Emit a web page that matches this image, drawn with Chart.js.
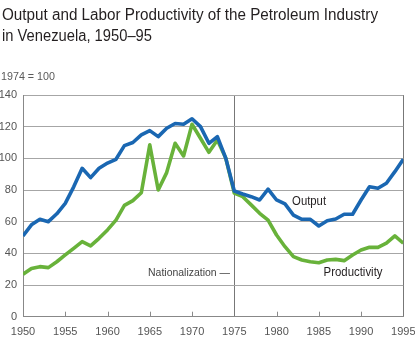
<!DOCTYPE html>
<html><head><meta charset="utf-8">
<script src="https://cdn.jsdelivr.net/npm/chart.js@4.4.1/dist/chart.umd.min.js"></script>
<style>html,body{margin:0;padding:0;background:#fff}#wrap{width:415px;height:353px;position:relative}</style>
</head><body><div id="wrap"><canvas id="c" width="415" height="353"></canvas></div>
<script>
const years = [1950,1951,1952,1953,1954,1955,1956,1957,1958,1959,1960,1961,1962,1963,1964,1965,1966,1967,1968,1969,1970,1971,1972,1973,1974,1975,1976,1977,1978,1979,1980,1981,1982,1983,1984,1985,1986,1987,1988,1989,1990,1991,1992,1993,1994,1995];
const outputIdx = [51,58,61.5,60,65,71.6,82,93.7,87.8,93.7,97,99.4,108,110,114.8,117.5,113.7,119,122,121.5,125,120,109.5,113.7,100,79.4,77.5,75.8,73.7,80.5,73.7,71.2,64.2,61.5,61.5,57.3,60.6,61.7,64.7,64.7,73.7,82.1,81.1,84.3,91.6,99.4];
const productivityIdx = [26.8,30.5,31.6,31,34.7,39,43.2,47.4,44.7,49.5,54.8,61,70.3,73.3,78.3,108.5,80,91,109.5,101.5,121.5,112.7,103.8,111.6,100,78,75.8,70.6,65.3,61,51.6,44.2,37.9,35.8,34.7,34.1,35.8,36.2,35.4,39,42.1,43.8,43.8,46.4,51,46.4];
const xTicks = [1950,1955,1960,1965,1970,1975,1980,1985,1990,1995];
const yTicks = [0,20,40,60,80,100,120,140];
const titleLines = ["Output and Labor Productivity of the Petroleum Industry","in Venezuela, 1950\u201395"];
const unitNote = "1974 = 100";
const nationalizationYear = 1975;

const SANS = "'Liberation Sans Narrow','Arial Narrow','Liberation Sans',Arial,sans-serif";

function fitText(ctx, text, x, y, font, color, width, align) {
  ctx.save();
  ctx.font = font;
  ctx.fillStyle = color;
  ctx.textBaseline = 'alphabetic';
  ctx.textAlign = 'left';
  const w = ctx.measureText(text).width;
  const s = width / w;
  let left = x;
  if (align === 'center') left = x - width / 2;
  else if (align === 'right') left = x - width;
  ctx.translate(left, y);
  ctx.scale(s, 1);
  ctx.fillText(text, 0, 0);
  ctx.restore();
}

const overlay = {
  id: 'overlay',
  beforeDatasetsDraw(chart) {
    const ctx = chart.ctx, xs = chart.scales.x, ys = chart.scales.y;
    const y0 = ys.getPixelForValue(0);
    ctx.save();
    ctx.strokeStyle = '#8a8a8a';
    ctx.lineWidth = 1;
    xTicks.forEach(v => {
      if (v === 1950 || v === nationalizationYear || v === 1995) return;
      const px = Math.round(xs.getPixelForValue(v)) + 0.5;
      ctx.beginPath(); ctx.moveTo(px, y0); ctx.lineTo(px, y0 - 5); ctx.stroke();
    });
    ctx.restore();
  },
  afterDraw(chart) {
    const ctx = chart.ctx, xs = chart.scales.x, ys = chart.scales.y;
    fitText(ctx, titleLines[0], 2, 20, "16px " + SANS, '#231f20', 376, 'left');
    fitText(ctx, titleLines[1], 2, 41, "16px " + SANS, '#231f20', 150, 'left');
    fitText(ctx, unitNote, 1, 80, "11px " + SANS, '#5a5a5a', 54, 'left');
    fitText(ctx, 'Output', xs.getPixelForValue(1983.85), ys.getPixelForValue(70.8), "12px " + SANS, '#231f20', 34, 'center');
    fitText(ctx, 'Productivity', xs.getPixelForValue(1989.05), ys.getPixelForValue(26.0), "12px " + SANS, '#231f20', 59, 'center');
    fitText(ctx, 'Nationalization \u2014', xs.getPixelForValue(1974.5), ys.getPixelForValue(26.0), "11.5px " + SANS, '#444', 82, 'right');
  }
};

const toPts = arr => years.map((yr, i) => ({x: yr, y: arr[i]}));

new Chart(document.getElementById('c'), {
  type: 'line',
  data: {
    datasets: [
      {label: 'Output', data: toPts(outputIdx), borderColor: '#1a67b2', borderWidth: 3.6, pointRadius: 0, tension: 0, borderJoinStyle: 'round', borderCapStyle: 'butt'},
      {label: 'Productivity', data: toPts(productivityIdx), borderColor: '#68b23a', borderWidth: 3.6, pointRadius: 0, tension: 0, borderJoinStyle: 'round', borderCapStyle: 'butt'}
    ]
  },
  options: {
    responsive: false,
    animation: false,
    devicePixelRatio: 1,
    layout: {padding: {top: 95, right: 11.7, left: 0, bottom: 0}},
    plugins: {legend: {display: false}, tooltip: {enabled: false}, title: {display: false}},
    scales: {
      x: {
        type: 'linear', min: 1950, max: 1995,
        afterBuildTicks: s => { s.ticks = xTicks.map(v => ({value: v})); },
        afterFit: s => { s.height = 36.3; s.paddingLeft = 0; s.paddingRight = 0; },
        ticks: {color: '#555', font: {family: SANS, size: 11}, padding: 9, maxRotation: 0, autoSkip: false, callback: v => String(v)},
        grid: {drawTicks: false, color: c => (c.tick && (c.tick.value === nationalizationYear || c.tick.value === 1995)) ? '#777' : 'rgba(0,0,0,0)', lineWidth: 1},
        border: {display: true, color: '#888', width: 1}
      },
      y: {
        min: 0, max: 140,
        afterBuildTicks: s => { s.ticks = yTicks.map(v => ({value: v})); },
        afterFit: s => { s.width = 23; s.paddingTop = 0; s.paddingBottom = 0; },
        ticks: {color: '#555', font: {family: SANS, size: 11}, padding: 6},
        grid: {drawTicks: false, color: c => (c.tick && c.tick.value === 0) ? 'rgba(0,0,0,0)' : '#a6a6a6', lineWidth: 1},
        border: {display: true, color: '#888', width: 1}
      }
    }
  },
  plugins: [overlay]
});
</script></body></html>
